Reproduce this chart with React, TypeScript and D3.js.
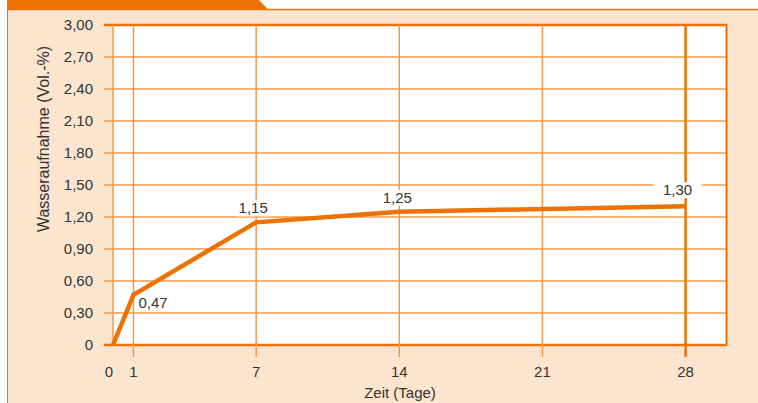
import React from "react";
import * as d3 from "d3";

const days = [0, 1, 7, 14, 28];
const values = [0, 0.47, 1.15, 1.25, 1.3];
const valueLabels = ["", "0,47", "1,15", "1,25", "1,30"];
const xTicks = [0, 1, 7, 14, 21, 28];
const yTicks = [0, 0.3, 0.6, 0.9, 1.2, 1.5, 1.8, 2.1, 2.4, 2.7, 3.0];
const yTickLabels = ["0", "0,30", "0,60", "0,90", "1,20", "1,50", "1,80", "2,10", "2,40", "2,70", "3,00"];
const xTitle = "Zeit (Tage)";
const yTitle = "Wasseraufnahme (Vol.-%)";

const W = 758, H = 403;
const ORANGE = "#ee7203";
const GRID = "#f19a4c";
const PEACH = "#fce5cf";
const TEXT = "#333333";
const FONT = "'Liberation Sans', Arial, sans-serif";

export default function App() {
  const x = d3.scaleLinear().domain([0, 30]).range([113, 726.5]);
  const y = d3.scaleLinear().domain([0, 3]).range([345, 25]);
  const line = d3.line<number>().x((_, i) => x(days[i])).y((d) => y(d));
  const pts = values.map((v, i) => ({ d: days[i], v, l: valueLabels[i] }));

  const labelPos: Record<number, { dx: number; dy: number; anchor: string }> = {
    1: { dx: 5, dy: 13, anchor: "start" },
    7: { dx: -3, dy: -9, anchor: "middle" },
    14: { dx: -2, dy: -9, anchor: "middle" },
    28: { dx: -8, dy: -11, anchor: "middle" },
  };

  return (
    <svg width={W} height={H} style={{ position: "absolute", left: 0, top: 0 }} fontFamily={FONT}>
      <rect x={0} y={0} width={W} height={H} fill="#ffffff" />
      <rect x={7.5} y={10} width={W - 7.5} height={H - 10} fill={PEACH} />
      <line x1={7} x2={W} y1={9.5} y2={9.5} stroke={ORANGE} strokeWidth={1.5} />
      <line x1={7.5} x2={7.5} y1={0} y2={H} stroke={ORANGE} strokeWidth={1} />
      <path d="M7,0 L259,0 L268,9.5 L7,9.5 Z" fill={ORANGE} />

      <rect x={x(0)} y={y(3)} width={x(30) - x(0)} height={y(0) - y(3)} fill="#ffffff" />

      {yTicks.map((t, i) => (
        <line key={"h" + i} x1={104} x2={x(30)} y1={y(t)} y2={y(t)}
          stroke={i === 0 || i === yTicks.length - 1 ? ORANGE : GRID}
          strokeWidth={i === 0 || i === yTicks.length - 1 ? 2.5 : 1.5} />
      ))}
      {xTicks.map((t, i) =>
        t === 0 ? (
          <line key={"v" + i} x1={x(t)} x2={x(t)} y1={y(3)} y2={y(0)} stroke={GRID} strokeWidth={1.5} />
        ) : (
          <line key={"v" + i} x1={x(t)} x2={x(t)} y1={y(3)} y2={357}
            stroke={t === 28 ? ORANGE : GRID} strokeWidth={t === 28 ? 2.5 : 1.5} />
        )
      )}
      <line x1={x(30)} x2={x(30)} y1={y(3) - 1} y2={y(0) + 1} stroke={ORANGE} strokeWidth={2} />

      {yTicks.map((t, i) => (
        <text key={"yl" + i} x={93} y={y(t) + 5} textAnchor="end" fontSize={15} fill={TEXT}>
          {yTickLabels[i]}
        </text>
      ))}
      {xTicks.map((t, i) => (
        <text key={"xl" + i} x={t === 0 ? x(t) - 4 : x(t)} y={377} textAnchor="middle" fontSize={15} fill={TEXT}>
          {t}
        </text>
      ))}
      <text x={400} y={398} textAnchor="middle" fontSize={15} fill={TEXT}>{xTitle}</text>
      <text transform={`translate(49,139) rotate(-90)`} textAnchor="middle" fontSize={16} fill={TEXT}>{yTitle}</text>

      {pts.filter((p) => p.l && p.d >= 7).map((p, i) => {
        const lp = labelPos[p.d];
        const w = 30;
        const bx = x(p.d) + lp.dx - w / 2 - 2;
        const extra = p.d === 28 ? 7 : 0;
        return (
          <rect key={"bg" + i} x={bx - extra} y={y(p.v) + lp.dy - 13} width={w + 4 + extra * 2} height={16} fill="#ffffff" />
        );
      })}

      <path d={line(values) || ""} fill="none" stroke={ORANGE} strokeWidth={4.5} strokeLinejoin="miter" strokeLinecap="butt" />

      {pts.filter((p) => p.l).map((p, i) => {
        const lp = labelPos[p.d];
        return (
          <text key={"vl" + i} x={x(p.d) + lp.dx} y={y(p.v) + lp.dy} textAnchor={lp.anchor as any} fontSize={15} fill={TEXT}>
            {p.l}
          </text>
        );
      })}
    </svg>
  );
}
